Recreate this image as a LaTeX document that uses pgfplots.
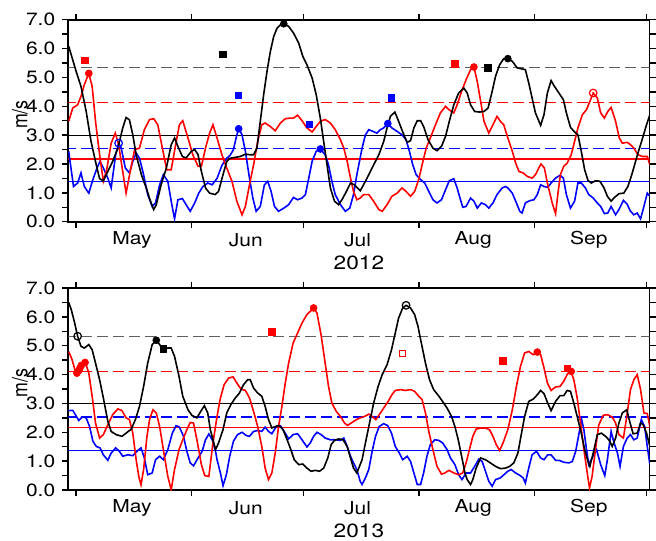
\documentclass[border=0pt]{standalone}
\usepackage{graphicx}
\usepackage{pgfplots}
\pgfplotsset{compat=1.18}
\usepackage{fontspec}
\setmainfont{TeX Gyre Heros}[FakeStretch=1.18]
\newfontfamily\plainfont{TeX Gyre Heros}
\definecolor{refgray}{RGB}{95,95,95}
\definecolor{myred}{RGB}{255,0,0}
\definecolor{myblue}{RGB}{0,0,255}
\pgfplotsset{
  panel/.style={
    scale only axis, width=290.6pt, height=101pt,
    xmin=-2.1, xmax=153.8, ymin=0, ymax=7,
    axis line style={line width=0.9pt},
    tick align=outside,
    every tick/.style={black, line width=0.7pt},
    major tick length=3pt, minor tick length=3pt,
    xtick={0,31,61,92,123,153}, xticklabels={,,,,,},
    extra x ticks={15,45.5,75.5,106.5,137.5},
    extra x tick labels={May,Jun,Jul,Aug,Sep},
    extra x tick style={major tick length=0pt},
    ytick={0,1,2,3,4,5,6,7}, minor ytick={0.5,1.5,2.5,3.5,4.5,5.5,6.5},
    yticklabel style={/pgf/number format/.cd, fixed, fixed zerofill, precision=1, assume math mode=true},
    every tick label/.append style={font=\fontsize{8.9}{10}\selectfont},
    xticklabel style={anchor=center, yshift=-9pt},
    every axis x label/.style={at={(axis description cs:0.5,0)}, anchor=center, yshift=-20.5pt, font=\fontsize{9.6}{11}\selectfont},
    every axis y label/.style={at={(axis description cs:-0.0834,0.53)}, rotate=90, anchor=center, font=\fontsize{8.9}{10}\selectfont},
    ylabel={\plainfont\scalebox{1}[1.18]{m/s}},
    clip=true,
  },
  dl/.style={line width=0.8pt, mark=none},
  rl/.style={line width=0.6pt, mark=none},
  dsh/.style={dash pattern=on 5.5pt off 2.5pt},
  fsq/.style={only marks, mark=square*, mark size=1.6pt},
  osq/.style={only marks, mark=square, mark size=1.5pt, mark options={line width=0.5pt}},
  fci/.style={only marks, mark=*, mark size=1.7pt},
  oci/.style={only marks, mark=o, mark size=1.9pt, mark options={line width=0.6pt}},
}
\begin{document}
\begin{tikzpicture}
\path[use as bounding box] (0,0) rectangle (328pt,270pt);
% ---------------- 2012 ----------------
\begin{axis}[panel, at={(34.15pt,159.15pt)}, anchor=south west, xlabel={2012}]
\addplot[rl, black] coordinates {(-3,3.0) (155,3.0)};
\addplot[rl, refgray, dsh] coordinates {(-3,5.33) (155,5.33)};
\addplot[rl, myred, dsh] coordinates {(-3,4.12) (155,4.12)};
\addplot[rl, myblue, dsh] coordinates {(-3,2.53) (155,2.53)};
\addplot[rl, myred] coordinates {(-3,2.17) (155,2.17)};
\addplot[rl, myblue] coordinates {(-3,1.38) (155,1.38)};
% blue
\addplot[dl, myblue] coordinates {
(-2.0,2.44)(-0.7,1.22)(0.4,1.34)(1.3,1.69)(2.2,1.22)(3.4,0.99)(4.5,1.46)(5.6,1.86)(6.4,2.09)(7.3,1.86)(8.5,1.51)(9.4,1.17)(10.6,2.32)(11.4,2.72)(12.1,2.55)(13.2,1.86)(14.3,1.69)(15.2,2.09)(16.1,2.38)(17.0,2.20)(18.1,1.63)(19.2,0.94)(20.4,0.53)(21.3,0.65)(22.4,1.28)(23.4,1.63)(24.6,1.40)(25.5,0.71)(26.4,0.10)(27.3,0.76)(28.5,0.80)(29.5,0.59)(30.6,0.36)(31.8,0.65)(32.9,0.99)(34.0,1.22)(35.3,1.34)(36.5,1.28)
(37.8,1.50)(39.1,1.95)(40.4,2.20)(41.3,2.30)(42.2,2.50)(43.0,2.95)(43.6,3.22)(44.5,3.01)(45.4,2.44)(46.5,1.51)(47.4,0.82)(48.3,0.36)(49.4,0.53)(50.5,1.28)(51.4,1.40)(52.3,1.05)(53.2,0.53)(54.3,0.36)(55.7,0.47)(57.0,0.59)(58.3,0.84)(59.4,0.76)(60.6,0.82)(61.5,0.94)(62.4,1.51)(63.3,2.09)(64.4,2.44)(65.5,2.52)(66.8,2.32)(67.7,1.97)(68.6,1.40)(69.5,0.94)(70.9,0.59)(72.2,0.36)(73.4,0.47)(74.4,0.94)(75.3,1.63)
(76.7,2.55)(77.6,3.01)(78.5,3.19)(79.6,3.13)(80.7,3.07)(81.6,3.19)(82.5,3.25)(83.6,3.40)(84.7,3.25)(86.1,3.13)(87.4,3.01)(88.5,2.84)(89.4,2.44)(90.3,1.97)(91.2,1.63)(92.4,1.46)(93.5,1.34)(94.6,1.05)(95.7,0.76)(96.8,0.65)(98.0,0.76)(99.1,1.11)(100.1,1.42)(101.3,1.49)(102.2,1.17)(103.1,0.76)(103.7,0.50)(104.6,0.53)(105.8,0.82)(106.7,0.71)(107.6,0.47)(108.7,0.65)(109.8,0.59)(110.7,0.47)(111.8,0.65)(112.9,0.94)(114.3,1.17)(115.2,1.22)
(115.8,1.17)(117.0,0.99)(118.1,0.65)(119.0,0.36)(119.6,0.30)(120.5,0.65)(121.7,0.73)(122.8,0.76)(123.7,0.94)(124.6,1.28)(125.5,1.22)(126.5,1.19)(127.4,1.34)(128.6,1.51)(129.8,1.61)(130.7,1.51)(131.5,0.94)(132.6,0.47)(133.7,0.71)(134.6,1.34)(135.5,1.34)(136.6,1.17)(137.5,0.94)(138.7,0.82)(139.8,0.65)(140.7,0.53)(141.7,0.28)(142.6,0.30)(143.5,0.53)(144.7,0.24)(145.6,0.42)(146.8,0.74)(147.8,0.61)(148.7,0.36)(149.6,0.24)(150.5,0.30)(151.4,0.10)(152.3,0.53)(153.2,0.99)(153.9,0.88)};
% red
\addplot[dl, myred] coordinates {
(-2.0,3.48)(-0.9,3.94)(0.4,4.05)(1.3,4.34)(2.2,4.75)(3.4,5.14)(4.3,4.69)(5.2,3.48)(6.3,2.32)(7.3,1.40)(8.2,1.80)(9.4,2.72)(10.5,3.07)(11.4,2.67)(12.5,1.74)(13.4,0.99)(14.5,1.74)(15.7,2.50)(17.0,2.55)(18.3,3.19)(19.7,3.54)(20.8,3.57)(21.9,3.36)(23.3,2.44)(24.3,1.80)(25.5,1.80)(26.7,2.67)(27.7,3.36)(28.6,3.50)(30.0,2.90)(31.3,2.32)(32.7,1.92)(33.6,1.92)(34.7,2.55)(35.8,3.07)(36.7,3.36)
(37.8,2.90)(39.1,2.32)(40.4,1.86)(41.8,1.40)(43.1,0.71)(44.5,0.24)(45.4,0.53)(46.5,1.28)(47.6,1.97)(48.7,2.78)(49.8,3.36)(50.7,3.42)(52.1,3.30)(53.4,3.15)(54.8,3.42)(56.1,3.57)(57.4,3.59)(58.3,3.59)(59.4,3.69)(60.6,3.50)(61.9,3.25)(63.3,3.11)(64.4,3.30)(65.5,3.48)(66.8,3.54)(68.2,3.42)(69.5,3.19)(70.9,2.84)(71.8,2.55)(72.7,2.09)(73.6,1.51)(74.4,1.05)(75.3,0.76)(76.2,0.82)
(77.1,0.94)(78.5,0.94)(79.8,0.71)(81.2,0.42)(82.1,0.36)(83.4,0.59)(84.7,0.88)(86.1,0.99)(87.4,1.17)(88.5,1.05)(89.7,0.88)(90.8,1.05)(91.9,1.46)(92.8,1.97)(93.9,2.55)(95.0,2.90)(96.4,3.36)(97.7,3.77)(99.1,4.00)(100.0,3.88)(101.3,3.77)(102.2,4.05)(103.4,4.52)(104.6,4.92)(105.8,5.27)(106.7,5.36)(107.6,4.86)(108.5,4.17)(109.4,3.48)(110.7,3.07)(111.8,3.36)(112.9,3.65)(113.8,3.48)
(114.7,3.36)(115.8,2.90)(117.0,2.44)(117.9,2.03)(118.8,1.74)(119.9,1.69)(121.0,1.57)(122.3,1.51)(123.2,1.63)(124.1,1.86)(124.7,2.00)(125.6,1.86)(126.5,1.28)(127.7,0.65)(128.6,0.28)(129.2,0.94)(129.9,1.63)(130.8,1.92)(131.7,2.03)(132.8,2.32)(133.7,2.78)(134.6,3.25)(135.8,3.71)(136.9,3.88)(137.8,4.17)(138.7,4.46)(139.8,4.29)(140.7,3.77)(141.7,3.59)(142.6,3.82)(143.5,3.96)(144.7,3.48)(145.7,2.90)(146.5,2.72)(147.8,2.75)(148.7,2.67)(149.6,2.55)(150.7,2.32)(151.9,2.26)(153.2,2.26)(153.9,1.97)};
% black
\addplot[dl, black] coordinates {
(-2.0,6.08)(0.0,5.21)(1.3,4.69)(2.7,3.82)(4.0,2.78)(5.4,1.97)(6.3,1.49)(7.3,1.42)(8.5,1.74)(9.8,2.09)(11.2,2.55)(12.5,3.25)(13.4,3.61)(14.3,3.53)(15.2,3.01)(16.1,2.32)(17.5,1.63)(18.8,1.17)(20.1,0.65)(20.8,0.42)(21.5,0.59)(22.8,1.28)(24.2,1.86)(25.5,2.67)(26.4,2.90)(27.3,2.61)(28.5,2.26)(29.5,2.21)(30.9,2.44)(31.8,2.50)(32.7,2.32)(33.6,1.74)(34.7,1.17)(35.8,0.99)
(37.3,0.94)(38.2,1.05)(39.4,1.63)(40.4,2.09)(41.3,2.20)(42.7,2.23)(44.0,2.26)(45.4,2.34)(46.7,2.32)(47.6,2.32)(48.5,2.55)(49.4,3.48)(50.3,4.40)(51.2,5.21)(52.1,5.90)(53.0,6.42)(53.9,6.71)(55.0,6.85)(55.7,6.86)(57.0,6.77)(58.3,6.54)(59.7,6.19)(60.8,5.73)(61.9,5.44)(63.3,4.98)(64.4,4.40)(65.5,3.59)(66.4,2.78)(67.3,1.97)(68.2,1.17)(69.3,0.71)(70.4,0.59)(71.3,0.76)(72.5,1.05)(73.6,1.34)(74.6,1.28)
(76.2,1.07)(77.1,1.28)(78.5,1.63)(79.8,1.97)(81.2,2.32)(82.5,2.78)(83.4,3.25)(84.3,3.65)(85.5,3.80)(86.5,3.48)(87.9,3.01)(88.8,2.75)(89.7,2.81)(90.6,3.25)(91.5,3.50)(92.4,3.50)(93.2,3.30)(94.4,2.84)(95.7,2.55)(96.8,2.46)(98.0,2.61)(99.1,2.96)(100.1,3.48)(101.3,4.05)(102.6,4.46)(104.0,4.63)(104.9,4.46)(105.8,4.05)(106.9,3.82)(108.2,3.80)(109.4,3.82)(110.5,3.94)(111.6,4.52)(112.5,5.04)(113.6,5.44)(114.7,5.65)
(115.8,5.65)(117.0,5.56)(118.3,5.33)(119.4,5.30)(120.5,5.27)(121.4,4.81)(122.3,4.29)(123.2,3.77)(124.6,3.34)(125.5,3.71)(126.4,4.46)(127.4,4.89)(128.3,4.69)(129.5,4.46)(130.7,4.23)(131.5,3.77)(132.6,3.27)(133.7,3.11)(134.6,3.01)(135.5,2.44)(136.4,1.80)(137.3,1.43)(138.2,1.34)(139.3,1.42)(140.5,1.40)(141.6,1.17)(142.5,0.88)(143.5,0.71)(144.4,0.84)(145.6,0.97)(146.9,0.99)(148.0,1.22)(148.9,1.57)(149.8,1.97)(150.7,2.38)(151.9,2.88)(153.0,3.36)(153.9,3.71)};
% markers
\addplot[myred, fsq] coordinates {(2.4,5.59) (101.6,5.47)};
\addplot[myred, fci] coordinates {(3.4,5.14) (106.7,5.36)};
\addplot[myred, oci] coordinates {(138.7,4.46)};
\addplot[myblue, oci] coordinates {(11.4,2.72)};
\addplot[myblue, fsq] coordinates {(43.6,4.38) (62.5,3.38) (84.6,4.29)};
\addplot[myblue, fci] coordinates {(43.6,3.22) (65.5,2.52) (83.6,3.40)};
\addplot[black, fsq] coordinates {(39.4,5.79) (110.5,5.33)};
\addplot[black, fci] coordinates {(55.7,6.86) (115.8,5.65)};
\end{axis}
% ---------------- 2013 ----------------
\begin{axis}[panel, at={(34.15pt,25pt)}, anchor=south west, xlabel={2013}]
\addplot[rl, black] coordinates {(-3,3.0) (155,3.0)};
\addplot[rl, refgray, dsh] coordinates {(-3,5.33) (155,5.33)};
\addplot[rl, myred, dsh] coordinates {(-3,4.12) (155,4.12)};
\addplot[rl, myblue, dsh] coordinates {(-3,2.53) (155,2.53)};
\addplot[rl, myred] coordinates {(-3,2.17) (155,2.17)};
\addplot[rl, myblue] coordinates {(-3,1.38) (155,1.38)};
% blue
\addplot[dl, myblue] coordinates {
(-2.0,2.75)(-0.9,2.76)(-0.2,2.61)(0.7,2.41)(1.6,2.53)(2.7,2.50)(3.6,2.20)(4.5,1.69)(5.4,1.51)(6.4,1.46)(7.3,1.22)(8.5,1.03)(9.4,1.28)(10.6,1.46)(11.6,1.34)(12.5,1.17)(13.9,1.22)(15.2,1.19)(16.3,1.34)(17.4,1.46)(18.3,1.11)(19.2,0.53)(20.4,0.59)(21.3,1.05)(22.4,1.17)(23.4,1.05)(24.6,1.40)(25.8,1.97)(26.8,2.23)(27.7,2.18)(28.8,1.86)(29.7,1.34)(30.6,0.94)(31.5,0.84)(32.7,1.11)(33.8,1.34)(34.7,1.74)(35.6,1.94)(36.5,1.74)(37.4,1.34)
(37.8,1.05)(38.7,0.59)(39.4,0.15)(40.3,0.53)(41.2,1.17)(42.2,1.69)(43.3,1.92)(44.5,2.00)(45.6,1.89)(46.5,1.86)(47.6,2.03)(48.7,2.06)(49.8,2.03)(50.7,2.18)(51.6,2.03)(52.5,1.95)(53.7,2.20)(54.8,2.23)(55.8,2.03)(57.0,1.77)(58.2,1.92)(59.4,1.95)(60.6,1.74)(61.9,1.49)(62.8,1.63)(63.7,1.86)(64.6,2.00)(65.7,1.92)(66.8,1.80)(68.2,1.74)(69.5,1.74)(70.9,1.72)(71.8,1.80)(72.7,1.51)(73.6,1.17)(74.4,0.94)(75.3,0.71)(76.2,0.30)
(76.7,0.19)(77.6,0.42)(78.5,0.71)(79.4,1.34)(80.3,1.86)(81.3,2.20)(82.5,2.30)(83.6,2.23)(84.6,1.97)(85.6,1.51)(86.7,1.28)(87.6,1.05)(88.8,1.17)(89.7,0.99)(90.6,0.59)(91.5,0.19)(92.4,0.19)(93.2,0.59)(94.1,1.17)(95.0,1.57)(96.2,1.74)(97.3,1.72)(98.3,1.63)(99.5,1.40)(100.4,1.11)(101.6,0.88)(102.6,0.53)(103.5,0.36)(104.6,0.59)(105.8,0.59)(106.9,0.82)(108.0,1.07)(108.9,0.99)(109.8,0.65)(110.7,0.30)(111.6,0.13)(112.5,0.36)(113.8,0.42)
(115.8,0.65)(116.7,0.71)(117.9,0.59)(119.0,0.51)(119.9,0.42)(120.5,0.24)(121.4,0.76)(122.3,1.22)(123.5,1.34)(124.6,1.11)(125.5,1.05)(126.5,1.22)(127.4,1.22)(128.6,1.03)(129.8,1.02)(130.8,0.96)(132.2,0.94)(133.1,0.99)(134.0,1.34)(134.9,1.97)(135.6,2.44)(136.2,2.09)(136.9,1.40)(137.5,0.88)(138.4,1.11)(139.6,1.40)(140.7,0.88)(141.8,0.50)(142.5,1.05)(143.5,2.03)(144.3,1.63)(145.2,1.28)(145.9,0.82)(146.8,1.51)(147.8,1.80)(148.7,1.92)(149.6,1.74)(150.5,1.80)(151.6,2.44)(152.5,2.20)(153.2,1.51)(153.9,0.88)};
% red
\addplot[dl, myred] coordinates {
(-2.0,4.80)(-1.1,4.52)(-0.2,4.11)(0.4,4.00)(1.1,4.23)(1.8,4.34)(2.5,4.40)(3.4,4.05)(4.3,3.25)(5.2,2.32)(6.3,1.80)(7.3,1.92)(8.5,2.26)(9.8,2.61)(11.2,2.81)(12.3,2.75)(13.4,2.50)(14.3,2.44)(15.2,1.97)(16.1,1.05)(16.8,0.47)(17.4,0.18)(18.1,0.71)(19.0,1.86)(19.7,2.44)(20.6,2.78)(21.5,2.67)(22.4,2.20)(23.4,1.40)(24.6,0.47)(25.5,0.01)(26.4,0.71)(27.6,1.40)(28.6,1.74)(29.7,2.09)(30.6,2.34)(31.5,2.32)(32.4,1.74)(33.6,0.88)(34.5,0.50)(35.6,0.47)(36.7,1.63)
(37.8,2.55)(38.7,3.19)(39.7,3.65)(40.9,3.88)(42.1,3.92)(43.1,3.71)(44.2,3.50)(45.4,3.45)(46.5,3.19)(47.6,2.72)(48.7,2.20)(49.8,1.51)(50.7,0.76)(51.6,0.36)(52.5,0.59)(53.4,1.28)(54.3,2.20)(55.2,2.90)(56.1,3.71)(57.0,4.40)(58.2,5.09)(59.4,5.44)(60.6,5.79)(61.9,6.08)(62.8,6.19)(63.7,6.31)(64.6,6.13)(65.7,5.38)(66.8,4.40)(67.7,3.59)(68.6,3.01)(69.8,2.72)(70.9,2.55)(72.0,2.32)(72.8,2.24)(74.0,2.34)(75.2,2.44)(76.2,2.50)
(77.4,2.55)(78.5,2.63)(79.4,2.55)(80.4,2.44)(81.3,2.61)(82.5,2.84)(83.7,3.07)(84.7,3.30)(85.6,3.45)(87.0,3.48)(88.3,3.45)(89.7,3.48)(90.8,3.42)(91.9,3.25)(92.8,3.13)(93.7,2.67)(94.6,2.03)(95.7,1.40)(96.8,0.82)(98.0,0.55)(98.9,0.59)(100.0,0.68)(101.3,0.59)(102.6,0.53)(103.7,0.59)(104.6,0.94)(105.5,1.40)(106.4,1.86)(107.3,2.11)(108.5,2.15)(109.8,2.15)(110.9,2.09)(111.8,1.86)(112.7,1.57)(113.6,1.37)(114.5,1.63)
(115.8,2.09)(117.0,2.78)(118.1,3.59)(119.2,4.29)(120.3,4.75)(121.4,4.80)(122.6,4.69)(123.7,4.78)(124.6,4.69)(125.5,4.23)(126.4,3.71)(127.4,3.45)(128.6,3.57)(129.8,3.59)(130.8,3.77)(131.7,4.00)(132.6,4.15)(133.5,3.82)(134.4,3.19)(135.3,2.32)(136.2,1.40)(137.1,0.59)(137.7,0.07)(138.4,0.47)(139.3,1.40)(140.2,2.26)(141.4,2.59)(142.5,2.61)(143.8,2.53)(144.7,2.32)(145.6,1.92)(146.8,1.80)(147.7,2.55)(148.7,3.48)(149.6,3.82)(150.5,4.00)(151.4,3.48)(152.3,2.67)(153.2,2.65)(153.9,2.20)};
% black
\addplot[dl, black] coordinates {
(-2.0,6.50)(-1.3,6.25)(-0.4,5.79)(0.4,5.33)(1.3,4.98)(2.2,4.92)(3.4,5.04)(4.3,4.86)(5.2,4.40)(6.3,3.82)(7.3,3.19)(8.5,2.38)(9.4,2.03)(10.7,1.92)(12.3,1.86)(13.4,1.97)(14.8,2.11)(15.9,2.44)(17.0,2.90)(18.1,3.59)(19.2,4.40)(20.4,5.04)(21.5,5.19)(22.4,5.04)(23.4,4.86)(24.6,4.92)(25.5,4.92)(26.4,4.63)(27.6,3.94)(28.6,3.25)(30.0,2.78)(31.1,2.58)(32.4,2.50)(33.4,2.72)(34.4,2.92)(35.3,2.67)(36.0,2.09)(37.4,1.40)
(38.2,1.63)(39.4,2.09)(40.4,2.67)(41.5,2.96)(42.7,3.19)(43.8,3.36)(44.9,3.65)(46.0,3.82)(46.7,3.82)(47.6,3.53)(48.7,3.36)(49.8,3.25)(50.7,2.90)(51.6,2.44)(52.5,2.15)(53.4,2.20)(54.5,2.23)(55.5,2.09)(56.6,1.74)(57.6,1.40)(58.5,1.05)(59.7,0.88)(60.8,0.90)(61.9,0.76)(63.0,0.65)(64.2,0.68)(65.3,0.65)(66.4,0.76)(67.5,1.11)(68.4,1.57)(69.3,1.72)(70.4,1.77)(71.6,1.74)(72.7,1.51)(73.6,1.11)(74.4,0.76)(75.3,0.59)
(76.7,1.05)(77.6,1.63)(78.7,2.32)(79.8,3.01)(81.0,3.59)(82.1,4.00)(83.4,4.34)(84.6,4.86)(85.6,5.44)(86.5,5.96)(87.6,6.31)(88.5,6.40)(89.7,6.31)(90.8,6.08)(91.7,5.67)(92.6,5.09)(93.7,4.40)(94.8,3.82)(95.9,3.48)(97.3,3.25)(98.3,3.07)(99.5,2.84)(100.7,2.55)(101.6,2.20)(102.5,1.74)(103.4,1.17)(104.3,0.59)(104.9,0.36)(105.8,0.19)(106.4,0.36)(107.3,0.76)(108.5,1.11)(109.8,1.05)(111.1,0.94)(112.5,0.82)(113.8,0.74)
(115.2,0.76)(116.3,0.82)(117.4,0.94)(118.5,1.28)(119.4,1.92)(120.3,2.55)(121.4,3.07)(122.6,3.15)(123.7,3.30)(124.6,3.45)(125.5,3.34)(126.5,3.01)(127.4,2.75)(128.6,3.07)(129.8,3.27)(130.8,3.27)(131.7,3.45)(132.6,3.42)(133.5,3.01)(134.4,2.55)(135.5,1.97)(136.4,1.40)(137.3,0.99)(137.8,0.82)(138.7,1.28)(139.8,1.92)(140.9,1.97)(142.0,1.86)(142.9,1.74)(143.8,1.51)(144.7,1.80)(145.6,2.32)(146.5,2.67)(147.7,2.78)(148.6,2.32)(149.4,1.95)(150.5,1.97)(151.4,2.32)(152.1,2.26)(153.0,1.97)(153.9,1.51)};
% markers
\addplot[black, oci] coordinates {(0.4,5.33) (88.5,6.40)};
\addplot[myred, fci] coordinates {(0.2,4.05) (0.6,4.12) (1.0,4.22) (1.4,4.32) (2.4,4.42) (63.7,6.31) (123.7,4.78) (132.8,4.11)};
\addplot[black, fci] coordinates {(21.5,5.19)};
\addplot[black, fsq] coordinates {(23.4,4.89)};
\addplot[myred, fsq] coordinates {(52.5,5.48) (114.5,4.48) (131.7,4.22)};
\addplot[myred, osq] coordinates {(87.6,4.72)};
\end{axis}
\end{tikzpicture}
\end{document}
